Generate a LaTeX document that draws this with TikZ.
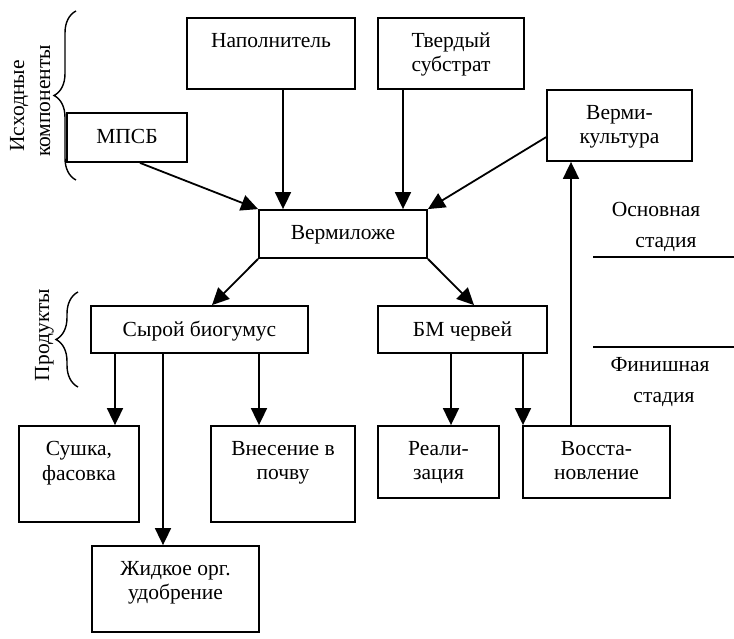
\documentclass[tikz,border=0pt]{standalone}
\usepackage{fontspec}
\setmainfont{Liberation Serif}[Ligatures=TeX]
\newfontfamily\ruserif{Liberation Serif}[Script=Cyrillic]
\usetikzlibrary{arrows.meta,decorations.pathreplacing,fit,calc}
\begin{document}
\begin{tikzpicture}[x=1pt,y=-1pt,
  box/.style={draw,line width=1.8pt,inner sep=0pt},
  lbl/.style={font=\ruserif\fontsize{21.5}{24.5}\selectfont,align=center,inner sep=0pt},
  arr/.style={line width=1.8pt,-{Triangle[length=17pt,width=16pt]}},
  ln/.style={line width=1.8pt},
  brc/.style={decorate,decoration={brace,amplitude=22pt},line width=1.4pt}]
\useasboundingbox (0,0) rectangle (734,639);

% boxes
\node[box,fit={(187,18) (355,89)}] (nap) {};
\node[box,fit={(378,18) (524,89)}] (tv) {};
\node[box,fit={(67,113) (187,162)}] (mpsb) {};
\node[box,fit={(547,90) (692,161)}] (vk) {};
\node[box,fit={(259,210) (427,258)}] (vl) {};
\node[box,fit={(91,306) (308,353)}] (sb) {};
\node[box,fit={(378,306) (547,353)}] (bm) {};
\node[box,fit={(19,426) (139,522)}] (su) {};
\node[box,fit={(211,426) (355,522)}] (vn) {};
\node[box,fit={(378,426) (499,498)}] (re) {};
\node[box,fit={(523,426) (670,498)}] (vo) {};
\node[box,fit={(92,546) (259,632)}] (zh) {};

% texts
\node[lbl,anchor=north] (tnap) at ([yshift=-16pt]nap.north) {Наполнитель};
\node[lbl,anchor=north] (ttv) at ([yshift=-15pt]tv.north) {Твердый\\субстрат};
\node[lbl,anchor=north] (tmpsb) at ([yshift=-17pt]mpsb.north) {МПСБ};
\node[lbl,anchor=north] (tvk) at ([yshift=-16pt]vk.north) {Верми-\\культура};
\node[lbl,anchor=north] (tvl) at ([yshift=-16pt]vl.north) {Вермиложе};
\node[lbl,anchor=north] (tsb) at ([yshift=-16pt]sb.north) {Сырой биогумус};
\node[lbl,anchor=north] (tbm) at ([yshift=-16pt]bm.north) {БМ червей};
\node[lbl,anchor=north] (tsu) at ([yshift=-16pt]su.north) {Сушка,\\фасовка};
\node[lbl,anchor=north] (tvn) at ([yshift=-16pt]vn.north) {Внесение в\\почву};
\node[lbl,anchor=north] (tre) at ([yshift=-16pt]re.north) {Реали-\\зация};
\node[lbl,anchor=north] (tvo) at ([yshift=-16pt]vo.north) {Восста-\\новление};
\node[lbl,anchor=north] (tzh) at ([yshift=-16pt]zh.north) {Жидкое орг.\\удобрение};

% x positions of vertical connectors
\coordinate (xa) at (283,0);
\coordinate (xb) at (403,0);
\coordinate (xc) at (115,0);
\coordinate (xd) at (163,0);
\coordinate (xe) at (259,0);
\coordinate (xf) at (451,0);
\coordinate (xg) at (523,0);
\coordinate (xh) at (571,0);
\coordinate (xi) at (140,0);
\coordinate (xj) at (212,0);
\coordinate (xk) at (474,0);

% connectors
\draw[arr] (xi |- mpsb.south) -- (vl.north west);
\draw[arr] (xa |- nap.south) -- (xa |- vl.north);
\draw[arr] (xb |- tv.south) -- (xb |- vl.north);
\draw[arr] ($(vk.south west)!0.34!(vk.north west)$) -- (vl.north east);
\draw[arr] (vl.south west) -- (xj |- sb.north);
\draw[arr] (vl.south east) -- (xk |- bm.north);
\draw[arr] (xc |- sb.south) -- (xc |- su.north);
\draw[arr] (xd |- sb.south) -- (xd |- zh.north);
\draw[arr] (xe |- sb.south) -- (xe |- vn.north);
\draw[arr] (xf |- bm.south) -- (xf |- re.north);
\draw[arr] (xg |- bm.south) -- (xg |- vo.north);
\draw[arr] (xh |- vo.north) -- (xh |- vk.south);

% stage separators
\draw[ln] (593,257) -- (734,257);
\draw[ln] (593,347) -- (734,347);
\node[lbl,anchor=base] (s1) at (656,217) {Основная};
\node[lbl,anchor=base] (s2) at (666,248) {стадия};
\node[lbl,anchor=base] (s3) at (660,371) {Финишная};
\node[lbl,anchor=base] (s4) at (664,402) {стадия};

% braces and side labels
\draw[brc] (76,180) -- (76,11);
\draw[brc] (78,387) -- (78,292);
\node[lbl,anchor=base,rotate=90] (g1) at (24,106) {Исходные};
\node[lbl,anchor=base,rotate=90] (g2) at (50,101) {компоненты};
\node[lbl,anchor=base,rotate=90] (g3) at (49,335) {Продукты};
\end{tikzpicture}
\end{document}
